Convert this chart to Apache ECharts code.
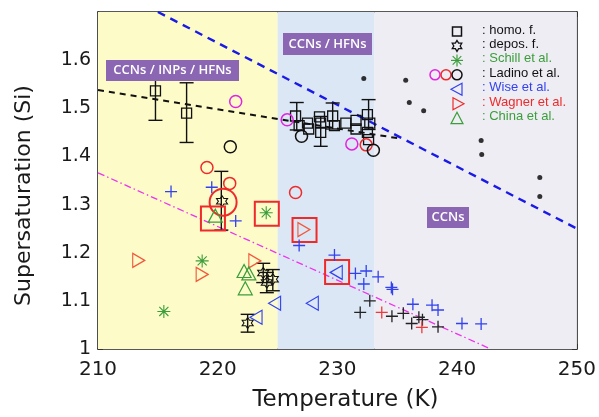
<!DOCTYPE html>
<html><head><meta charset="utf-8">
<script src="https://cdn.jsdelivr.net/npm/echarts@6/dist/echarts.min.js"></script>
<style>html,body{margin:0;padding:0;background:#fff}#c{width:599px;height:417px}</style>
</head><body><div id="c"></div>
<script>
// ---------- data ----------
const xTicks = [210, 220, 230, 240, 250];
const yTicks = [1, 1.1, 1.2, 1.3, 1.4, 1.5, 1.6];
const regionBounds = [210, 225, 233.1, 250];
const regionLabels = ['CCNs / INPs / HFNs', 'CCNs / HFNs', 'CCNs'];

const homo = [[214.8,1.536],[217.4,1.49],[226.5,1.484],[226.8,1.464],[227.5,1.469],[227.6,1.457],[228.5,1.482],[228.6,1.469],[228.6,1.45],[229.6,1.484],[229.75,1.464],[230.7,1.469],[231.55,1.475],[231.55,1.457],[232.5,1.487],[232.7,1.469],[232.5,1.45],[232.6,1.435]];
const homoErr = [[214.8,1.475,1.598],[217.4,1.429,1.553],[226.6,1.455,1.512],[228.6,1.421,1.483],[229.6,1.457,1.511],[232.6,1.456,1.518]];
const depos = [[220.36,1.307],[223.8,1.158],[224.1,1.138],[224.6,1.145],[222.5,1.054]];
const deposErr = [[220.3,1.247,1.369],[223.8,1.138,1.178],[224.1,1.117,1.159],[224.6,1.121,1.165],[222.5,1.035,1.072]];
const schill = [[215.5,1.078],[218.7,1.183],[224.05,1.283]];
const ladinoMagenta = [[221.5,1.514],[225.8,1.476],[231.2,1.426]];
const ladinoRed = [[219.1,1.377],[221.0,1.344],[226.5,1.325],[232.4,1.424]];
const ladinoBlack = [[221.05,1.42],[227.0,1.442],[233.0,1.413]];
const wise = [[223.2,1.066],[224.75,1.095],[227.9,1.095],[229.9,1.159]];
const wagner = [[213.4,1.184],[218.7,1.155],[223.1,1.183],[227.2,1.248]];
const china = [[219.8,1.277],[222.2,1.162],[222.6,1.157],[222.3,1.126]];
const bigCircle = [[220.45,1.305]];
const bigSquares = [[219.6,1.271],[224.1,1.281],[227.25,1.247],[229.97,1.16]];
const bluePlus = [[216.1,1.327],[219.5,1.336],[221.5,1.266],[226.8,1.215],[229.75,1.195],[231.5,1.157],[232.4,1.162],[233.4,1.15],[232.2,1.135],[234.5,1.128],[234.6,1.124],[236.3,1.093],[237.9,1.091],[238.4,1.081],[240.4,1.053],[242.0,1.052]];
const blackPlus = [[231.9,1.076],[232.7,1.10],[234.55,1.068],[235.5,1.074],[236.8,1.066],[236.2,1.053],[237.1,1.061],[238.4,1.046]];
const redPlus = [[233.7,1.076],[237.05,1.045]];
const blackDots = [[232.2,1.562],[235.7,1.558],[236.0,1.512],[237.2,1.495],[242.0,1.433],[242.05,1.404],[246.9,1.356],[246.9,1.317]];
const blueDashed = [[215,1.70],[250,1.25]];
const blackDashed = [[210,1.538],[235,1.438]];
const magentaDashDot = [[210,1.366],[242.8,1.0]];
const legendLabels = [': homo. f.', ': depos. f.', ': Schill et al.', ': Ladino et al.', ': Wise et al.', ': Wagner et al.', ': China et al.'];

// ---------- styling ----------
const C = {black:'#111', green:'#3a9e3a', blue:'#3342ee', red:'#ee2a2a', orange:'#f2583c', magenta:'#e024e0', purple:'#8b66b2'};
function hexPath(){
  let s=''; for(let i=0;i<12;i++){const a=Math.PI/2+i*Math.PI/6; const r=(i%2===0)?10:5.8; const x=10+r*Math.cos(a), y=10-r*Math.sin(a); s+=(i===0?'M':'L')+x.toFixed(2)+','+y.toFixed(2);} return 'path://'+s+'Z';
}
const HEX = hexPath();
const PLUS = 'path://M5,0L5,10M0,5L10,5';
const AST = 'path://M5,0L5,10M0,5L10,5M1.5,1.5L8.5,8.5M8.5,1.5L1.5,8.5';
const LTRI = 'path://M0,5L10,0L10,10Z';
const RTRI = 'path://M10,5L0,0L0,10Z';

function sc(name, data, symbol, size, color, bw, z){
  return {type:'scatter', name, data, symbol, symbolSize:size, z:z||5,
    itemStyle:{color:'rgba(0,0,0,0)', borderColor:color, borderWidth:bw||1.2, opacity:1}, silent:true, animation:false};
}
function errSeries(data){
  return {type:'custom', data, z:4, silent:true, animation:false,
    renderItem:function(params, api){
      const x=api.value(0), lo=api.value(1), hi=api.value(2);
      const a=api.coord([x,lo]), b=api.coord([x,hi]); const w=7;
      const st={stroke:'#111', lineWidth:1.4};
      return {type:'group', children:[
        {type:'line', shape:{x1:a[0],y1:a[1],x2:b[0],y2:b[1]}, style:st},
        {type:'line', shape:{x1:a[0]-w,y1:a[1],x2:a[0]+w,y2:a[1]}, style:st},
        {type:'line', shape:{x1:b[0]-w,y1:b[1],x2:b[0]+w,y2:b[1]}, style:st}]};
    }};
}
const regionColors = ['#fdfbc8','#dce7f5','#efedf4'];
const markAreaData = [];
for(let i=0;i<3;i++) markAreaData.push([{xAxis:regionBounds[i], itemStyle:{color:regionColors[i]}},{xAxis:regionBounds[i+1]}]);

const axisCommon = {axisLine:{show:true, onZero:false, lineStyle:{color:'#222', width:1.6}},
  axisTick:{show:true, inside:true, length:5, lineStyle:{color:'#333'}}, splitLine:{show:false}};
const FONT = '"DejaVu Sans", Verdana, sans-serif';

// legend graphic
const lx = 457, ly0 = 31.5, ldy = 14.45;
const legendColors = [C.black, C.black, C.green, C.black, C.blue, C.red, C.green];
const g = [];
legendLabels.forEach((t,i)=>{
  g.push({type:'text', left:482, top:ly0+i*ldy-8, style:{text:t, fill:legendColors[i], font:'13px "Liberation Sans", Arial'}, z:100});
});
const ls = {fill:'none', stroke:C.black, lineWidth:1.5};
g.push({type:'rect', shape:{x:lx-4.5,y:ly0-4.5,width:9,height:9}, style:ls, z:100});
g.push({type:'polygon', shape:{points:(function(){const p=[];for(let i=0;i<12;i++){const a=Math.PI/2+i*Math.PI/6;const r=(i%2===0)?5.5:3.2;p.push([lx+r*Math.cos(a), ly0+ldy-r*Math.sin(a)]);}return p;})()}, style:{fill:'none',stroke:C.black,lineWidth:1.3}, z:100});
(function(){const cx=lx, cy=ly0+2*ldy, r=6; const s={stroke:C.green,lineWidth:1.2};
  g.push({type:'line',shape:{x1:cx,y1:cy-r,x2:cx,y2:cy+r},style:s,z:100});
  g.push({type:'line',shape:{x1:cx-r,y1:cy,x2:cx+r,y2:cy},style:s,z:100});
  g.push({type:'line',shape:{x1:cx-4.3,y1:cy-4.3,x2:cx+4.3,y2:cy+4.3},style:s,z:100});
  g.push({type:'line',shape:{x1:cx+4.3,y1:cy-4.3,x2:cx-4.3,y2:cy+4.3},style:s,z:100});})();
[[435,C.magenta],[446,C.red],[457,C.black]].forEach(([x,c])=>g.push({type:'circle',shape:{cx:x,cy:ly0+3*ldy,r:5},style:{fill:'none',stroke:c,lineWidth:1.5},z:100}));
g.push({type:'polygon',shape:{points:[[lx-6,ly0+4*ldy],[lx+5,ly0+4*ldy-6],[lx+5,ly0+4*ldy+6]]},style:{fill:'none',stroke:C.blue,lineWidth:1.2},z:100});
g.push({type:'polygon',shape:{points:[[lx+7,ly0+5*ldy],[lx-4,ly0+5*ldy-6],[lx-4,ly0+5*ldy+6]]},style:{fill:'none',stroke:C.red,lineWidth:1.2},z:100});
g.push({type:'polygon',shape:{points:[[lx,ly0+6*ldy-6],[lx-6,ly0+6*ldy+5.5],[lx+6,ly0+6*ldy+5.5]]},style:{fill:'none',stroke:C.green,lineWidth:1.2},z:100});
// region label boxes
[[106,60,133,21],[283,33,89,22],[427,207,42,21]].forEach((b,i)=>{
  g.push({type:'rect', shape:{x:b[0],y:b[1],width:b[2],height:b[3]}, style:{fill:C.purple}, z:90});
  g.push({type:'text', x:b[0]+b[2]/2, y:b[1]+b[3]/2, style:{text:regionLabels[i], fill:'#fff', font:'600 13px "Open Sans", "Noto Sans"', textAlign:'center', textVerticalAlign:'middle'}, z:91});
});

const option = {
  backgroundColor:'#fff', animation:false,
  grid:{left:98, right:22, top:12, bottom:67, containLabel:false},
  xAxis:[
    Object.assign({type:'value', min:210, max:250, interval:10, position:'bottom',
      name:'Temperature (K)', nameLocation:'middle', nameGap:40,
      nameTextStyle:{fontFamily:FONT, fontSize:23, color:'#1a1a1a', padding:[0,0,0,16]},
      axisLabel:{margin:11, fontFamily:FONT, fontSize:20, color:'#1a1a1a', formatter:v=>xTicks.includes(v)?String(v):''}}, axisCommon),
    Object.assign({type:'value', min:210, max:250, interval:10, position:'top', axisLabel:{show:false}}, axisCommon)
  ],
  yAxis:[
    Object.assign({type:'value', min:1, max:1.7, interval:0.1, position:'left',
      name:'Supersaturation (Si)', nameLocation:'middle', nameGap:63,
      nameTextStyle:{fontFamily:FONT, fontSize:22, color:'#1a1a1a', padding:[0,30,0,0]},
      axisLabel:{margin:7, fontFamily:FONT, fontSize:19, color:'#1a1a1a', formatter:v=>{const m=yTicks.find(t=>Math.abs(t-v)<1e-6); return m===undefined?'':String(m);}}}, axisCommon),
    Object.assign({type:'value', min:1, max:1.7, interval:0.1, position:'right', axisLabel:{show:false}}, axisCommon)
  ],
  graphic:g,
  series:[
    {type:'line', data:[], markArea:{silent:true, data:markAreaData}, z:1},
    {type:'line', data:blackDashed, symbol:'none', z:3, lineStyle:{color:'#111', width:2, type:[6,5]}},
    {type:'line', data:blueDashed, symbol:'none', z:3, lineStyle:{color:'#1a1ae6', width:2.4, type:[8,6]}},
    {type:'line', data:magentaDashDot, symbol:'none', z:3, lineStyle:{color:'#ee33ee', width:1.3, type:[7,3,1.5,3]}},
    errSeries(homoErr), errSeries(deposErr),
    sc('homo', homo, 'rect', 10, C.black, 1.3),
    sc('depos', depos, HEX, 11, C.black, 1.1),
    sc('bigSq', bigSquares, 'rect', 24, C.red, 2),
    sc('bigCirc', bigCircle, 'circle', 27, C.red, 2),
    sc('schill', schill, AST, 13, C.green, 1.1),
    sc('ladinoM', ladinoMagenta, 'circle', 12, C.magenta, 1.5),
    sc('ladinoR', ladinoRed, 'circle', 12, C.red, 1.5),
    sc('ladinoK', ladinoBlack, 'circle', 12, C.black, 1.5),
    sc('wise', wise, LTRI, [12,14], C.blue, 1.2),
    sc('wagner', wagner, RTRI, [12,14], C.orange, 1.2),
    sc('china', china, 'triangle', [14,13], C.green, 1.2),
    sc('bplus', bluePlus, PLUS, 12, C.blue, 1.3),
    sc('kplus', blackPlus, PLUS, 12, '#222', 1.3),
    sc('rplus', redPlus, PLUS, 12, '#ee3a3a', 1.3),
    {type:'scatter', data:blackDots, symbol:'circle', symbolSize:5, itemStyle:{color:'#000'}, z:5, silent:true}
  ]
};
const chart = echarts.init(document.getElementById('c'), null, {renderer:'canvas'});
chart.setOption(option);
</script></body></html>
